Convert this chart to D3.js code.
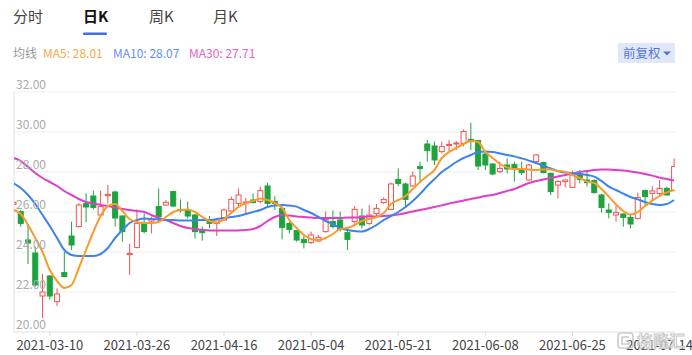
<!DOCTYPE html>
<html>
<head>
<meta charset="utf-8">
<script src="https://cdn.jsdelivr.net/npm/d3@7"></script>
<style>
  html, body { margin: 0; padding: 0; background: #fff; }
  body { width: 692px; height: 355px; overflow: hidden; font-family: "Noto Sans CJK SC", "Noto Sans", sans-serif; }
  svg text { font-family: "Noto Sans CJK SC", "Noto Sans", sans-serif; }
</style>
</head>
<body>
<svg id="kchart" width="692" height="355"></svg>
<script>
/* ---------- data ---------- */
const tabs = ['分时', '日K', '周K', '月K'];
const activeTab = '日K';

const maLegend = [
  { label: 'MA5: 28.01', key: 'ma5' },
  { label: 'MA10: 28.07', key: 'ma10' },
  { label: 'MA30: 27.71', key: 'ma30' }
];

const dates = [
  '2021-03-03','2021-03-04','2021-03-05','2021-03-08','2021-03-09','2021-03-10','2021-03-11','2021-03-12',
  '2021-03-15','2021-03-16','2021-03-17','2021-03-18','2021-03-19','2021-03-22','2021-03-23','2021-03-24',
  '2021-03-25','2021-03-26','2021-03-29','2021-03-30','2021-03-31','2021-04-01','2021-04-07','2021-04-08',
  '2021-04-09','2021-04-12','2021-04-13','2021-04-14','2021-04-15','2021-04-16','2021-04-19','2021-04-20',
  '2021-04-21','2021-04-22','2021-04-23','2021-04-26','2021-04-27','2021-04-28','2021-04-29','2021-04-30',
  '2021-05-03','2021-05-04','2021-05-05','2021-05-06','2021-05-07','2021-05-10','2021-05-11','2021-05-12',
  '2021-05-13','2021-05-14','2021-05-17','2021-05-18','2021-05-20','2021-05-21','2021-05-24','2021-05-25',
  '2021-05-26','2021-05-27','2021-05-28','2021-05-31','2021-06-01','2021-06-02','2021-06-03','2021-06-04',
  '2021-06-07','2021-06-08','2021-06-09','2021-06-10','2021-06-11','2021-06-15','2021-06-16','2021-06-17',
  '2021-06-18','2021-06-21','2021-06-22','2021-06-23','2021-06-24','2021-06-25','2021-06-28','2021-06-29',
  '2021-06-30','2021-07-02','2021-07-05','2021-07-06','2021-07-07','2021-07-08','2021-07-09','2021-07-12',
  '2021-07-13','2021-07-14','2021-07-15','2021-07-16'
];

const tickDates = ['2021-03-10', '2021-03-26', '2021-04-16', '2021-05-04',
                   '2021-05-21', '2021-06-08', '2021-06-25', '2021-07-14'];
const yTicks = [20, 22, 24, 26, 28, 30, 32];

const open = [
  26.38, 26.02, 24.6, 23.95, 21.8, 22.8, 21.52, 22.97, 24.8, 25.27,
  26.42, 26.8, 25.85, 26.82, 27.0, 25.8, 23.87, 24.23, 25.47, 25.55,
  26.27, 26.35, 27.02, 26.13, 26.07, 25.85, 25.13, 25.52, 25.43, 25.6,
  26.05, 26.43, 26.45, 26.6, 26.52, 27.3, 26.52, 26.18, 25.43, 25.07,
  24.63, 24.47, 24.55, 25.02, 25.52, 25.6, 24.97, 25.52, 25.8, 25.43,
  25.93, 26.47, 26.13, 27.63, 27.4, 27.3, 28.27, 29.4, 29.3, 29.02,
  29.33, 29.4, 29.43, 29.63, 29.57, 28.9, 28.4, 28.02, 28.35, 28.38,
  28.07, 27.6, 28.52, 28.47, 27.93, 27.35, 27.52, 27.23, 27.93, 27.6,
  27.57, 26.85, 26.1, 25.85, 25.9, 25.73, 25.68, 27.07, 26.93, 26.93,
  27.18, 27.07
];
const high = [
  26.5, 26.1, 25.4, 24.27, 22.9, 22.85, 22.18, 24.0, 25.52, 26.45,
  26.93, 27.07, 27.07, 27.35, 27.07, 25.85, 24.4, 26.13, 25.93, 25.77,
  27.18, 26.6, 27.07, 26.63, 26.52, 25.9, 25.27, 25.8, 25.63, 26.18,
  26.77, 27.18, 26.7, 26.93, 27.27, 27.47, 26.8, 26.27, 25.52, 25.1,
  24.85, 25.02, 24.85, 26.02, 26.07, 26.02, 25.1, 26.3, 26.18, 26.35,
  26.4, 26.73, 27.47, 28.18, 27.47, 28.02, 28.52, 29.6, 29.52, 29.52,
  29.6, 29.55, 30.13, 30.47, 29.6, 28.97, 28.43, 28.52, 28.68, 28.52,
  28.52, 28.4, 28.9, 28.52, 27.97, 27.6, 27.63, 28.07, 28.1, 28.02,
  27.63, 26.9, 26.43, 26.4, 25.93, 25.85, 26.97, 27.13, 27.3, 27.6,
  27.27, 28.68
];
const low = [
  26.35, 25.27, 23.4, 22.27, 20.7, 21.63, 21.3, 22.75, 24.1, 25.23,
  25.5, 26.13, 25.77, 26.43, 25.27, 24.52, 22.85, 24.18, 24.93, 24.93,
  25.5, 26.3, 26.25, 25.97, 25.68, 24.67, 24.57, 25.18, 24.8, 25.57,
  26.02, 26.27, 25.95, 26.43, 26.43, 26.23, 26.1, 24.63, 24.93, 24.52,
  24.18, 24.4, 24.52, 24.97, 25.18, 25.02, 24.1, 25.43, 25.18, 25.35,
  25.8, 26.4, 26.1, 27.3, 26.27, 27.27, 27.52, 28.52, 28.35, 28.93,
  29.02, 29.1, 29.27, 29.1, 28.1, 28.1, 27.85, 27.93, 27.93, 27.52,
  27.85, 27.57, 28.43, 27.93, 26.85, 26.68, 27.23, 27.2, 27.43, 27.27,
  26.93, 25.97, 25.68, 25.52, 25.27, 25.18, 25.63, 26.35, 26.52, 26.77,
  26.85, 27.07
];
const close = [
  26.48, 25.43, 24.45, 22.35, 22.0, 21.8, 21.9, 22.77, 24.35, 26.35,
  26.25, 26.23, 26.27, 26.88, 25.7, 25.02, 23.93, 25.43, 25.02, 25.63,
  25.77, 26.48, 26.3, 26.07, 25.8, 25.02, 24.97, 25.43, 25.6, 26.1,
  26.63, 26.85, 26.5, 26.47, 27.07, 26.43, 26.43, 25.23, 25.13, 24.6,
  24.47, 24.85, 24.73, 25.63, 25.27, 25.13, 24.63, 26.13, 25.35, 25.85,
  26.18, 26.63, 27.4, 27.43, 26.63, 27.8, 28.17, 29.07, 28.6, 29.27,
  29.38, 29.45, 30.02, 29.52, 28.3, 28.35, 27.9, 28.18, 28.15, 28.15,
  27.97, 28.35, 28.85, 27.97, 27.02, 27.52, 27.6, 27.85, 27.63, 27.47,
  26.97, 26.23, 25.98, 25.97, 25.73, 25.4, 26.72, 26.77, 27.05, 27.18,
  26.85, 28.27
];

const ma5 = [
  26.1, 25.9, 25.35, 24.7, 24.0, 23.1, 22.55, 22.2, 22.35, 23.2,
  24.1, 25.0, 25.8, 26.3, 26.4, 26.05, 25.65, 25.5, 25.45, 25.45,
  25.5, 25.75, 26.0, 26.1, 26.13, 26.0, 25.75, 25.55, 25.47, 25.65,
  25.95, 26.25, 26.45, 26.55, 26.68, 26.6, 26.45, 26.2, 25.6, 25.2,
  24.85, 24.65, 24.6, 24.7, 24.9, 25.15, 25.2, 25.35, 25.55, 25.65,
  25.75, 25.95, 26.4, 26.6, 26.8, 27.15, 27.5, 27.8, 28.1, 28.7,
  29.0, 29.2, 29.4, 29.55, 29.5, 29.0, 28.7, 28.4, 28.23, 28.15,
  28.15, 28.12, 28.1, 28.12, 28.12, 28.05, 28.0, 27.85, 27.7, 27.52,
  27.45, 27.15, 26.77, 26.38, 26.05, 25.87, 26.0, 26.3, 26.57, 26.8,
  26.98, 27.1
];
const ma10 = [
  27.43, 27.2, 26.85, 26.4, 25.85, 25.3, 24.7, 24.1, 23.85, 23.8,
  23.8, 23.8, 23.9, 24.2, 24.7, 25.1, 25.45, 25.6, 25.68, 25.65,
  25.63, 25.6, 25.6, 25.57, 25.57, 25.58, 25.6, 25.6, 25.65, 25.7,
  25.75, 25.8, 25.9, 26.0, 26.1, 26.25, 26.33, 26.35, 26.32, 26.27,
  26.1, 25.95, 25.75, 25.55, 25.4, 25.2, 25.1, 25.05, 25.02, 25.15,
  25.35, 25.6, 25.8, 26.0, 26.25, 26.55, 26.9, 27.3, 27.65, 28.0,
  28.25, 28.5, 28.7, 28.85, 29.0, 29.02, 29.0, 28.93, 28.85, 28.78,
  28.68, 28.57, 28.45, 28.3, 28.18, 28.05, 27.97, 27.93, 27.9, 27.85,
  27.77, 27.55, 27.27, 27.1, 26.92, 26.75, 26.63, 26.5, 26.4, 26.35,
  26.4, 26.6
];
const ma30 = [
  28.7, 28.55, 28.25, 27.95, 27.7, 27.5, 27.3, 27.05, 26.85, 26.65,
  26.5, 26.42, 26.35, 26.3, 26.22, 26.15, 26.1, 26.05, 26.0, 25.85,
  25.7, 25.6, 25.45, 25.3, 25.2, 25.15, 25.1, 25.08, 25.07, 25.07,
  25.07, 25.08, 25.1, 25.15, 25.3, 25.55, 25.75, 25.85, 25.82, 25.78,
  25.75, 25.72, 25.7, 25.7, 25.7, 25.7, 25.72, 25.73, 25.75, 25.77,
  25.78, 25.8, 25.83, 25.87, 25.95, 26.02, 26.1, 26.18, 26.25, 26.33,
  26.42, 26.5, 26.58, 26.65, 26.72, 26.8, 26.85, 26.95, 27.05, 27.15,
  27.3, 27.45, 27.55, 27.63, 27.7, 27.78, 27.85, 27.92, 28.0, 28.05,
  28.1, 28.12, 28.12, 28.1, 28.07, 28.03, 27.97, 27.9, 27.82, 27.72,
  27.65, 27.57
];

/* ---------- styles ---------- */
const COLORS = {
  up: '#f25252',
  down: '#1ea33e',
  ma5: '#f99b2b',
  ma10: '#3d82ee',
  ma30: '#df3fc6'
};
const LEGEND_COLORS = { ma5: '#f9a84c', ma10: '#5f90f2', ma30: '#e462cc' };

function drawKChart() {
  const svg = d3.select('#kchart');
  svg.selectAll('*').remove();

  const plot = { left: 14, right: 675, top: 92, bottom: 332 };

  // tabs
  const tabX = [13, 83, 149, 213];
  tabs.forEach((t, i) => {
    svg.append('text')
      .attr('x', tabX[i]).attr('y', 22)
      .attr('font-size', 15)
      .attr('font-weight', t === activeTab ? 700 : 400)
      .attr('fill', t === activeTab ? '#111' : '#444')
      .text(t);
  });
  svg.append('rect')
    .attr('x', 83).attr('y', 32.5).attr('width', 24).attr('height', 2.5)
    .attr('rx', 1).attr('fill', '#3f6ff0');

  // MA legend
  const legend = svg.append('g').attr('font-size', 12);
  legend.append('text').attr('x', 13).attr('y', 57.5).attr('fill', '#999').text('均线');
  const legendX = [43, 113, 189];
  maLegend.forEach((d, i) => {
    legend.append('text')
      .attr('x', legendX[i]).attr('y', 57.5)
      .attr('fill', LEGEND_COLORS[d.key])
      .text(d.label);
  });

  // 前复权 button
  svg.append('rect')
    .attr('x', 618).attr('y', 43).attr('width', 57).attr('height', 20)
    .attr('fill', '#dfe7f8');
  svg.append('text')
    .attr('x', 623).attr('y', 57.5)
    .attr('font-size', 12.5).attr('fill', '#5576d8')
    .text('前复权');
  svg.append('path')
    .attr('d', 'M663,51.5 L671,51.5 L667,55.5 Z')
    .attr('fill', '#5576d8');

  const x = d3.scalePoint().domain(dates).range([13.5, 674.1]);
  const y = d3.scaleLinear().domain([20, 32]).range([plot.bottom, plot.top]);

  // grid + y labels
  const grid = svg.append('g');
  grid.selectAll('line.grid')
    .data(yTicks).enter().append('line')
      .attr('x1', plot.left).attr('x2', plot.right)
      .attr('y1', d => y(d)).attr('y2', d => y(d))
      .attr('stroke', d => d === 20 ? '#e2e2e2' : '#efefef')
      .attr('stroke-width', 1.2);
  grid.append('line')
    .attr('x1', plot.left).attr('x2', plot.left)
    .attr('y1', plot.top).attr('y2', plot.bottom)
    .attr('stroke', '#e6e6e6').attr('stroke-width', 1.2);

  // x ticks
  const xAxis = svg.append('g');
  xAxis.selectAll('line.tick')
    .data(tickDates).enter().append('line')
      .attr('x1', d => x(d)).attr('x2', d => x(d))
      .attr('y1', plot.bottom).attr('y2', plot.bottom + 4)
      .attr('stroke', '#dcdcdc');
  xAxis.selectAll('text')
    .data(tickDates).enter().append('text')
      .attr('x', d => x(d)).attr('y', 350)
      .attr('text-anchor', 'middle')
      .attr('font-size', 13).attr('fill', '#444')
      .text(d => d);

  // clip for the marks
  svg.append('defs').append('clipPath').attr('id', 'plot-clip')
    .append('rect')
      .attr('x', plot.left).attr('y', plot.top - 10)
      .attr('width', plot.right - plot.left).attr('height', plot.bottom - plot.top + 10);

  const g = svg.append('g').attr('clip-path', 'url(#plot-clip)');

  const candles = dates.map((d, i) => ({
    date: d, o: open[i], h: high[i], l: low[i], c: close[i], up: close[i] >= open[i]
  }));
  const bodyW = 5;

  // wicks
  candles.forEach(d => {
    const cx = x(d.date);
    const top = Math.max(d.o, d.c), bot = Math.min(d.o, d.c);
    const col = d.up ? COLORS.up : COLORS.down;
    if (d.up) {
      g.append('line').attr('x1', cx).attr('x2', cx)
        .attr('y1', y(d.h)).attr('y2', y(top)).attr('stroke', col);
      g.append('line').attr('x1', cx).attr('x2', cx)
        .attr('y1', y(bot)).attr('y2', y(d.l)).attr('stroke', col);
    } else {
      g.append('line').attr('x1', cx).attr('x2', cx)
        .attr('y1', y(d.h)).attr('y2', y(d.l)).attr('stroke', col);
    }
  });

  // bodies
  g.selectAll('rect.body')
    .data(candles).enter().append('rect')
      .attr('class', 'body')
      .attr('x', d => x(d.date) - bodyW / 2)
      .attr('y', d => y(Math.max(d.o, d.c)))
      .attr('width', bodyW)
      .attr('height', d => Math.max(1, Math.abs(y(d.o) - y(d.c))))
      .attr('fill', d => d.up ? '#fff' : COLORS.down)
      .attr('stroke', d => d.up ? COLORS.up : COLORS.down)
      .attr('stroke-width', 1);

  // moving averages
  const maSeries = { ma30, ma10, ma5 };
  Object.keys(maSeries).forEach(key => {
    const vals = maSeries[key];
    const line = d3.line()
      .x((v, i) => x(dates[i]))
      .y(v => y(v))
      .curve(d3.curveMonotoneX);
    g.append('path')
      .datum(vals)
      .attr('fill', 'none')
      .attr('stroke', COLORS[key])
      .attr('stroke-width', 2)
      .attr('d', line);
  });

  // y labels on top of the grid
  svg.append('g').selectAll('text')
    .data(yTicks).enter().append('text')
      .attr('x', 16).attr('y', d => y(d) - 3)
      .attr('font-size', 12).attr('fill', '#aaa')
      .text(d => d3.format('.2f')(d));

  // watermark
  const wm = svg.append('g').attr('opacity', 0.9);
  wm.append('rect')
    .attr('x', 618).attr('y', 333).attr('width', 15).attr('height', 15)
    .attr('rx', 3).attr('fill', 'none').attr('stroke', '#c8c8c8').attr('stroke-width', 1.6);
  wm.append('path')
    .attr('d', 'M629,337 L622,337 L622,344 L629,344 L629,341 L626,341')
    .attr('fill', 'none').attr('stroke', '#c8c8c8').attr('stroke-width', 1.6);
  wm.append('text')
    .attr('x', 637).attr('y', 347)
    .attr('font-size', 16).attr('font-weight', 700)
    .attr('fill', '#fff').attr('stroke', '#c4c4c4').attr('stroke-width', 1)
    .text('格隆汇');
}

drawKChart();
</script>
</body>
</html>
